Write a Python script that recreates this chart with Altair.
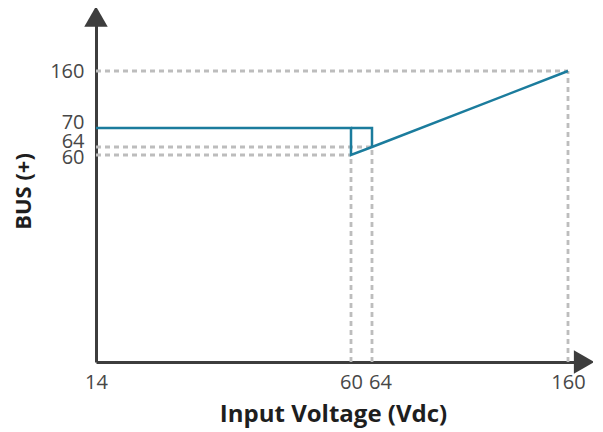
import altair as alt
import pandas as pd

# Data
line_x = [14, 60, 60, 64, 160, 60, 64, 64]
line_y = [70, 70, 60, 64, 160, 70, 70, 64]
line_seg = ["a", "a", "a", "a", "a", "b", "b", "b"]
line_order = [0, 1, 2, 3, 4, 0, 1, 2]

ref_vals = [60, 64, 160]
x_ticks = [14, 60, 64, 160]
y_ticks = [60, 64, 70, 160]

line_df = pd.DataFrame({"x": line_x, "y": line_y, "seg": line_seg, "o": line_order})
ref_df = pd.DataFrame({"v": ref_vals, "start": [14] * len(ref_vals), "base": [0] * len(ref_vals)})
one = pd.DataFrame({"a": [0]})

AXIS_COLOR = "#3d3d3d"
LABEL_COLOR = "#474747"
BLUE = "#1b7c9d"
GRID = "#bdbdbd"
FONT = "Open Sans"

xscale = alt.Scale(domain=[14, 60, 64, 160, 166.4], range=[0, 255, 276, 472, 485], nice=False, zero=False)
yscale = alt.Scale(domain=[0, 60, 64, 70, 160, 256], range=[352, 145, 137, 118, 61, 0], nice=False, zero=False)

xaxis = alt.Axis(
    values=x_ticks, ticks=False, grid=False, domainColor=AXIS_COLOR, domainWidth=3,
    labelFont=FONT, labelFontSize=20, labelColor=LABEL_COLOR, labelPadding=10,
    labelOffset={"condition": {"test": "datum.value == 64", "value": 8}, "value": 0},
    title="Input Voltage (Vdc)", titleFont=FONT, titleFontSize=24, titleFontWeight="bold",
    titleColor="#1e1e1e", titleX=237, titleY=59, titleBaseline="alphabetic", titleAlign="center",
    labelFlush=False, labelOverlap=False,
)
yaxis = alt.Axis(
    values=y_ticks, ticks=False, grid=False, domainColor=AXIS_COLOR, domainWidth=3,
    labelFont=FONT, labelFontSize=20, labelColor=LABEL_COLOR, labelPadding=12,
    labelOffset={
        "condition": [
            {"test": "datum.value == 60", "value": 2},
            {"test": "datum.value < 100", "value": -6},
        ],
        "value": 0,
    },
    title="BUS (+)", titleFont=FONT, titleFontSize=22, titleFontWeight="bold",
    titleColor="#1e1e1e", titleX=-73, titleY=181, titleBaseline="middle", titleAlign="center",
    titleAngle=270, labelFlush=False, labelOverlap=False,
)

hrefs = alt.Chart(ref_df).mark_rule(color=GRID, strokeWidth=2.8, strokeDash=[5, 4]).encode(
    x=alt.X("start:Q", scale=xscale, axis=xaxis),
    x2="v:Q",
    y=alt.Y("v:Q", scale=yscale, axis=yaxis),
)
vrefs = alt.Chart(ref_df).mark_rule(color=GRID, strokeWidth=2.8, strokeDash=[5, 4]).encode(
    x=alt.X("v:Q", scale=xscale),
    y=alt.Y("base:Q", scale=yscale),
    y2="v:Q",
)
line = alt.Chart(line_df).mark_line(color=BLUE, strokeWidth=2.5).encode(
    x=alt.X("x:Q", scale=xscale),
    y=alt.Y("y:Q", scale=yscale),
    detail="seg:N",
    order="o:Q",
)
arrow_up = alt.Chart(one).mark_point(shape="triangle-up", filled=True, color=AXIS_COLOR, opacity=1, size=550).encode(
    x=alt.value(0), y=alt.value(6.5)
)
arrow_right = alt.Chart(one).mark_point(shape="triangle-right", filled=True, color=AXIS_COLOR, opacity=1, size=550).encode(
    x=alt.value(488), y=alt.value(352)
)

chart = alt.layer(hrefs, vrefs, line, arrow_up, arrow_right).properties(
    width=485, height=352,
    padding={"left": 88, "top": 2, "right": 12, "bottom": 72},
    autosize=alt.AutoSizeParams(type="none"),
).configure_view(stroke=None)

chart.save("out.html", embed_options={"renderer": "svg", "actions": False})
